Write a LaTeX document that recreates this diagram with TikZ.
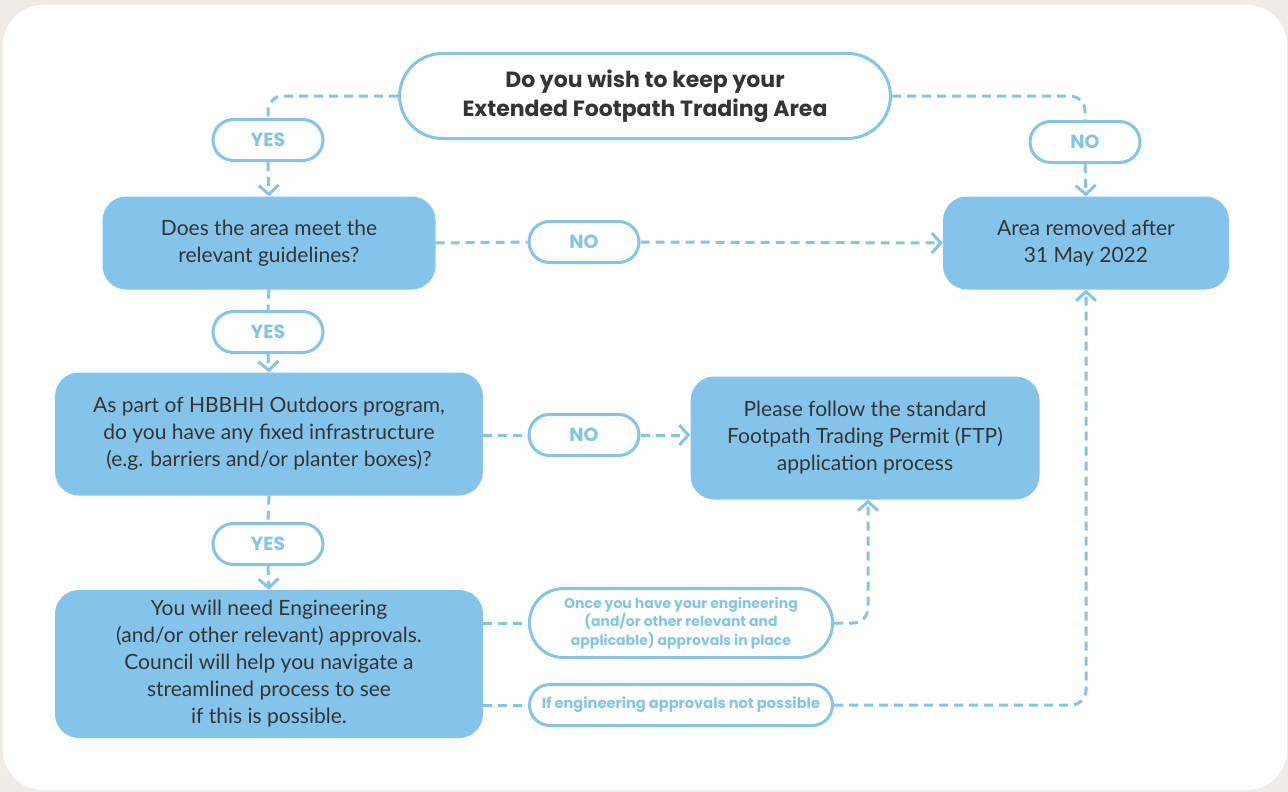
\documentclass[tikz,border=0pt]{standalone}
\usepackage{fontspec}
\setmainfont{Lato}
\newfontfamily\headfont{Poppins}
\usetikzlibrary{arrows.meta}

\definecolor{flowblue}{RGB}{133,196,234}
\definecolor{textgrey}{RGB}{52,52,52}
\definecolor{paper}{RGB}{239,236,232}

\tikzset{
  flow/.style={fill=flowblue, rounded corners=24pt, text=textgrey, align=center,
    font=\fontsize{21}{27}\selectfont, inner sep=0pt},
  pill/.style={draw=flowblue, line width=3pt, fill=white, rounded corners=20.5pt,
    text=flowblue, font=\headfont\bfseries\fontsize{19}{19}\selectfont,
    minimum width=110pt, minimum height=41pt, inner sep=0pt},
  note/.style={pill, align=center, font=\headfont\bfseries\fontsize{14}{18.5}\selectfont,
    minimum width=303pt},
  link/.style={draw=flowblue, line width=3pt, dash pattern=on 9pt off 6pt},
  go/.style={link, -{Straight Barb[length=9pt,width=20pt]}}
}

\begin{document}
\begin{tikzpicture}[x=1pt, y=-1pt]

% page and panel
\fill[paper] (0,0) rectangle (1288,792);
\fill[white, rounded corners=40pt] (3,5) rectangle (1287,790);
\useasboundingbox (0,0) rectangle (1288,792);

% question at the top
\node[pill, rounded corners=43pt, minimum width=491pt, minimum height=85pt, align=center,
  text=textgrey, font=\headfont\bfseries\fontsize{22}{29}\selectfont] (start) at (645,96)
  {Do you wish to keep your\\Extended Footpath Trading Area};

% answers
\node[pill] (yes1) at (268,140) {YES};
\node[pill] (no0) at (1085,142) {NO};
\node[pill] (no1) at (584,242) {NO};
\node[pill] (yes2) at (268,332) {YES};
\node[pill] (no2) at (584,435) {NO};
\node[pill] (yes3) at (268,544) {YES};

% boxes
\node[flow, minimum width=333pt, minimum height=93pt] (meet) at (269,243)
  {Does the area meet the\\relevant guidelines?};
\node[flow, minimum width=286pt, minimum height=93pt] (removed) at (1086,243)
  {Area removed after\\31 May 2022};
\node[flow, minimum width=428pt, minimum height=123pt] (fixed) at (269,434)
  {As part of HBBHH Outdoors program,\\do you have any fixed infrastructure\\(e.g. barriers and/or planter boxes)?};
\node[flow, minimum width=349pt, minimum height=123pt] (ftp) at (865,438)
  {Please follow the standard\\Footpath Trading Permit (FTP)\\application process};
\node[flow, minimum width=428pt, minimum height=148pt] (eng) at (269,664)
  {You will need Engineering\\(and/or other relevant) approvals.\\Council will help you navigate a\\streamlined process to see\\if this is possible.};

% conditions
\node[note, minimum height=69pt, rounded corners=34pt] (inplace) at (681,623)
  {Once you have your engineering\\(and/or other relevant and\\applicable) approvals in place};
\node[note, font=\headfont\bfseries\fontsize{14.6}{18.5}\selectfont] (notposs) at (681,705)
  {If engineering approvals not possible};

% connectors
\draw[link, rounded corners=15pt] (start.west) -| (yes1.north);
\draw[go] (yes1.south) -- (meet.north);
\draw[link, rounded corners=15pt] (start.east) -| (no0.north);
\draw[go] (no0.south) -- (removed.north);

\draw[link] (meet.east) -- (no1.west);
\draw[go] (no1.east) -- (removed.west);
\draw[link] (meet.south) -- (yes2.north);
\draw[go] (yes2.south) -- (fixed.north);

\draw[link] (fixed.east |- no2) -- (no2.west);
\draw[go] (no2.east) -- (ftp.west |- no2);
\draw[link] (fixed.south) -- (yes3.north);
\draw[go] (yes3.south) -- (eng.north);

\draw[link] (eng.east |- inplace) -- (inplace.west);
\draw[go, rounded corners=15pt] (inplace.east) -| ([xshift=3pt]ftp.south);
\draw[link] (eng.east |- notposs) -- (notposs.west);
\draw[go, rounded corners=15pt] (notposs.east) -| (removed.south);

\end{tikzpicture}
\end{document}
